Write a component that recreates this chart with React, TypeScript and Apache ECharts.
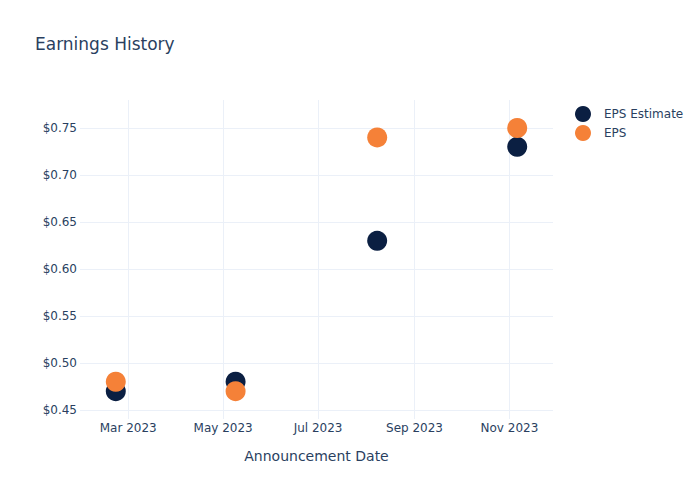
import React, { useEffect, useRef } from "react";
import * as echarts from "echarts";

const announcementDates = ["2023-02-21", "2023-05-09", "2023-08-08", "2023-11-06"];
const epsEstimate = [0.47, 0.48, 0.63, 0.73];
const epsActual = [0.48, 0.47, 0.74, 0.75];
const xTickDates = ["2023-03-01", "2023-05-01", "2023-07-01", "2023-09-01", "2023-11-01"];
const yTickValues = [0.45, 0.5, 0.55, 0.6, 0.65, 0.7, 0.75];
const MONTHS = ["Jan", "Feb", "Mar", "Apr", "May", "Jun", "Jul", "Aug", "Sep", "Oct", "Nov", "Dec"];

function ts(s: string): number {
  const [y, m, d] = s.split("-").map(Number);
  return new Date(y, m - 1, d).getTime();
}

export default function App() {
  const ref = useRef<HTMLDivElement>(null);
  useEffect(() => {
    if (!ref.current) return;
    const chart = echarts.init(ref.current, null, { renderer: "svg" });
    const textColor = "#2a3f5f";
    const font = "'DejaVu Sans', sans-serif";
    const xTicks = xTickDates.map(ts);
    chart.setOption({
      animation: false,
      textStyle: { fontFamily: font },
      title: {
        text: "Earnings History",
        left: 30,
        top: 30,
        textStyle: { color: textColor, fontSize: 17, fontWeight: "normal", fontFamily: font },
      },
      legend: {
        orient: "vertical",
        left: 570,
        top: 101,
        itemWidth: 32,
        itemHeight: 16,
        itemGap: 3,
        icon: "circle",
        textStyle: { color: textColor, fontSize: 12, fontFamily: font },
        data: ["EPS Estimate", "EPS"],
      },
      grid: { left: 80, right: 147, top: 100, bottom: 81, containLabel: false },
      xAxis: {
        type: "value",
        min: ts("2023-01-29"),
        max: ts("2023-11-29"),
        name: "Announcement Date",
        nameLocation: "middle",
        nameGap: 30,
        nameTextStyle: { color: textColor, fontSize: 14, fontFamily: font },
        axisLine: { show: false },
        axisTick: { show: false, customValues: xTicks },
        axisLabel: {
          customValues: xTicks,
          color: textColor,
          fontSize: 12,
          margin: 3,
          fontFamily: font,
          formatter: (v: number) => {
            const d = new Date(v);
            return MONTHS[d.getMonth()] + " " + d.getFullYear();
          },
        },
        splitLine: { show: true, lineStyle: { color: "#ebf0f8", width: 1 } },
      },
      yAxis: {
        type: "value",
        min: 0.4404,
        max: 0.7798,
        axisLine: { show: false },
        axisTick: { show: false, customValues: yTickValues },
        axisLabel: {
          customValues: yTickValues,
          color: textColor,
          fontSize: 12,
          margin: 3,
          fontFamily: font,
          formatter: (v: number) => "$" + v.toFixed(2),
        },
        splitLine: { show: true, lineStyle: { color: "#ebf0f8", width: 1 } },
      },
      series: [
        {
          name: "EPS Estimate",
          type: "scatter",
          symbolSize: 20,
          itemStyle: { color: "#0b1f42", opacity: 1 },
          data: announcementDates.map((d, i) => [ts(d), epsEstimate[i]]),
        },
        {
          name: "EPS",
          type: "scatter",
          symbolSize: 20,
          itemStyle: { color: "#f58138", opacity: 1 },
          data: announcementDates.map((d, i) => [ts(d), epsActual[i]]),
        },
      ],
    });
    return () => chart.dispose();
  }, []);
  return (
    <div
      ref={ref}
      style={{ position: "absolute", left: 0, top: 0, width: 700, height: 500 }}
    />
  );
}
